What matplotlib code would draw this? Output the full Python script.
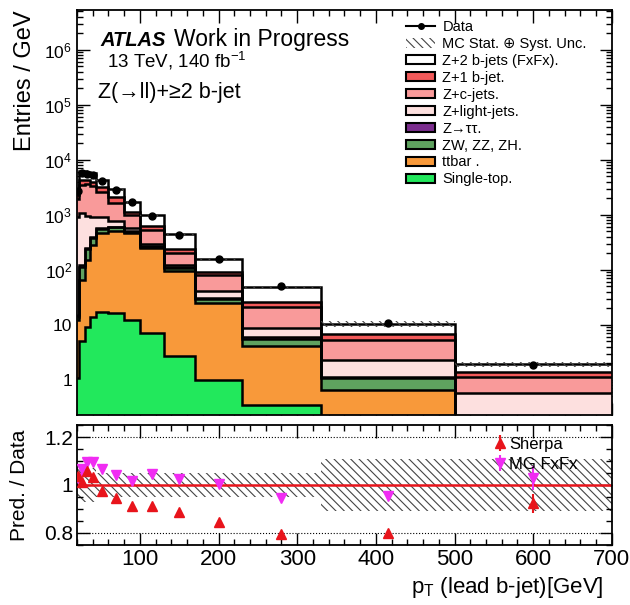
import matplotlib
matplotlib.use('Agg')
import matplotlib.pyplot as plt
from matplotlib.patches import Patch
from matplotlib.lines import Line2D
from matplotlib.ticker import MultipleLocator, LogLocator, FixedLocator, FuncFormatter, NullFormatter
import numpy as np

plt.rcParams['font.family'] = ['Liberation Sans', 'DejaVu Sans']
plt.rcParams['mathtext.fontset'] = 'custom'
plt.rcParams['mathtext.rm'] = 'Liberation Sans'
plt.rcParams['mathtext.it'] = 'Liberation Sans:italic'
plt.rcParams['hatch.linewidth'] = 0.8

# bin edges in GeV
edges = [20, 23, 30, 36, 44, 60, 80, 100, 130, 170, 230, 330, 500, 700]
centers = [21.5, 26.5, 33, 40, 52, 70, 90, 115, 150, 200, 280, 415, 600]

# entries / GeV, per process (stack order bottom -> top)
single_top = [1.1, 5.2, 9.0, 14.0, 17.5, 16.7, 12.3, 7.1, 2.7, 1.0, 0.35, 0.10, 0.02]
ttbar = [11, 61, 142, 269, 448, 483, 453, 240, 94, 24.5, 3.85, 0.56, 0.04]
diboson = [2, 49, 87, 94, 91, 100, 30, 15, 11, 3.8, 1.3, 0.43, 0.08]
z_tautau = [1, 5, 7, 13, 14, 10, 10, 8, 4, 1.5, 0.5, 0.06, 0.01]
z_light = [900, 980, 700, 510, 360, 180, 80, 27, 11, 9.7, 2.9, 1.15, 0.42]
z_c = [1000, 2400, 2700, 2400, 1720, 880, 415, 237, 82, 40.5, 12.6, 3.0, 0.58]
z_1b = [350, 800, 690, 600, 600, 480, 150, 96, 32, 12, 5.0, 1.6, 0.27]
z_2b = [515, 1890, 1800, 1790, 1125, 768, 580, 372, 209, 65.5, 21.5, 3.6, 0.5]

data = [2700, 5800, 5600, 5200, 4100, 2800, 1700, 960, 435, 158, 51, 11, 1.87]

# relative MC uncertainty
mc_unc = [0.07, 0.07, 0.07, 0.07, 0.05, 0.05, 0.05, 0.05, 0.05, 0.05, 0.05, 0.11, 0.11]

# Pred. / Data ratios
sherpa_ratio = [1.037, 1.011, 1.058, 1.032, 0.976, 0.944, 0.914, 0.914, 0.886, 0.847, 0.794, 0.798, 0.923]
sherpa_err = [0.005, 0.004, 0.004, 0.004, 0.004, 0.004, 0.005, 0.005, 0.006, 0.008, 0.01, 0.015, 0.04]
mg_ratio = [1.03, 1.067, 1.097, 1.094, 1.067, 1.042, 1.018, 1.044, 1.025, 1.003, 0.944, 0.955, 1.028]
mg_err = [0.005, 0.004, 0.004, 0.004, 0.004, 0.004, 0.005, 0.005, 0.006, 0.008, 0.01, 0.018, 0.05]

components = [
    (single_top, '#22e85c', 'Single-top.'),
    (ttbar, '#f8993a', 'ttbar .'),
    (diboson, '#5fa25f', 'ZW, ZZ, ZH.'),
    (z_tautau, '#7b2d8e', 'Z\u2192\u03c4\u03c4.'),
    (z_light, '#fde0df', 'Z+light-jets.'),
    (z_c, '#f99a9a', 'Z+c-jets.'),
    (z_1b, '#f25a5a', 'Z+1 b-jet.'),
    (z_2b, '#ffffff', 'Z+2 b-jets (FxFx).'),
]

fig = plt.figure(figsize=(6.3, 6.05), dpi=100)
ax = fig.add_axes([0.1222, 0.314, 0.849, 0.6695])
rax = fig.add_axes([0.1222, 0.0992, 0.849, 0.1983])

ymin = 0.23
# stack everything from (almost) zero so the layers keep their true heights
bottom = np.full(len(centers), 1e-4)
for vals, col, lab in components:
    top = bottom + np.array(vals)
    ax.stairs(top, edges, baseline=bottom, fill=True, facecolor=col, edgecolor='none', zorder=2)
    ax.stairs(top, edges, baseline=None, color='k', lw=1.8, zorder=3)
    bottom = top
total = bottom

unc = np.array(mc_unc)
ax.stairs(total * (1 + unc), edges, baseline=total * (1 - unc), fill=True,
          facecolor='none', edgecolor='#444444', hatch='\\\\\\\\', lw=0, zorder=4)
ax.plot(centers, data, 'o', color='k', ms=5, zorder=5)

ax.set_yscale('log')
ax.set_xlim(20, 700)
ax.set_ylim(ymin, 5.3e6)
# only decades inside the visible range get a label
ax.yaxis.set_major_locator(FixedLocator([1, 10, 1e2, 1e3, 1e4, 1e5, 1e6]))
ax.yaxis.set_minor_locator(LogLocator(base=10, subs=np.arange(2, 10), numticks=20))
ax.yaxis.set_minor_formatter(NullFormatter())


def log_label(v, pos):
    if abs(v - 1) < 1e-9:
        return '1'
    if abs(v - 10) < 1e-9:
        return '10'
    return r'$10^{%d}$' % round(np.log10(v))


ax.yaxis.set_major_formatter(FuncFormatter(log_label))
ax.xaxis.set_major_locator(MultipleLocator(100))
ax.xaxis.set_minor_locator(MultipleLocator(20))
ax.tick_params(axis='x', labelbottom=False)
ax.set_ylabel('Entries / GeV', fontsize=17, loc='top')
ax.yaxis.set_label_coords(-0.076, 1.0)

for a in (ax, rax):
    a.tick_params(which='both', direction='in', top=True, right=True, width=1.0)
    a.tick_params(which='major', length=9)
    a.tick_params(which='minor', length=4.5)
    for s in a.spines.values():
        s.set_linewidth(1.3)
ax.tick_params(axis='y', labelsize=12.5)

# labels
ax.text(0.043, 0.911, 'ATLAS', transform=ax.transAxes, fontsize=14.5,
        fontweight='bold', fontstyle='italic')
ax.text(0.181, 0.911, 'Work in Progress', transform=ax.transAxes, fontsize=16.5)
ax.text(0.056, 0.857, r'13 TeV, 140 fb$^{\mathregular{-1}}$', transform=ax.transAxes, fontsize=13.5)
ax.text(0.039, 0.783, 'Z(\u2192ll)+\u22652 b-jet', transform=ax.transAxes, fontsize=15.5)

handles = [Line2D([], [], color='k', marker='o', ms=4, lw=1.5),
           Patch(facecolor='none', edgecolor='#444444', hatch='\\\\\\\\', lw=0)]
labels = ['Data', 'MC Stat. \u2295 Syst. Unc.']
for vals, col, lab in components[::-1]:
    handles.append(Patch(facecolor=col, edgecolor='k', lw=1.5))
    labels.append(lab)
ax.legend(handles, labels, loc='upper left', bbox_to_anchor=(0.615, 0.975), frameon=False,
          fontsize=10.5, handlelength=2.0, handleheight=0.6, handletextpad=0.5,
          labelspacing=0.2, borderpad=0, borderaxespad=0)

# ratio panel
rax.stairs(1 + unc, edges, baseline=1 - unc, fill=True, facecolor='none',
           edgecolor='#444444', hatch='\\\\\\\\', lw=0, zorder=1)
rax.axhline(1.2, color='k', ls=':', lw=0.8)
rax.axhline(0.8, color='k', ls=':', lw=0.8)
rax.axhline(1.0, color='#e8141b', lw=1.8, zorder=2)
rax.errorbar(centers, sherpa_ratio, yerr=sherpa_err, fmt='^', color='#e8141b', ms=6.5,
             elinewidth=1.5, capsize=0, label='Sherpa', zorder=4)
rax.errorbar(centers, mg_ratio, yerr=mg_err, fmt='v', color='#f02cf2', ms=7.5,
             elinewidth=1.5, capsize=0, label='MG FxFx', zorder=3)
rax.legend(loc='upper left', bbox_to_anchor=(0.76, 1.0), frameon=False, fontsize=12,
           handlelength=0.6, handletextpad=0.25, labelspacing=0.3, borderpad=0.2)
rax.set_xlim(20, 700)
rax.set_ylim(0.75, 1.25)
rax.set_yticks([0.8, 1.0, 1.2])
rax.set_yticklabels(['0.8', '1', '1.2'])
rax.yaxis.set_minor_locator(MultipleLocator(0.05))
rax.xaxis.set_major_locator(MultipleLocator(100))
rax.xaxis.set_minor_locator(MultipleLocator(20))
rax.tick_params(axis='x', labelsize=16, pad=3)
rax.tick_params(axis='y', labelsize=15, pad=3)
rax.set_ylabel('Pred. / Data', fontsize=15)
rax.yaxis.set_label_coords(-0.09, 0.5)
rax.set_xlabel(r'p$_{\mathregular{T}}$ (lead b-jet)[GeV]', fontsize=16, loc='right')
rax.xaxis.set_label_coords(0.985, -0.25)

fig.savefig('out.png', dpi=100)
